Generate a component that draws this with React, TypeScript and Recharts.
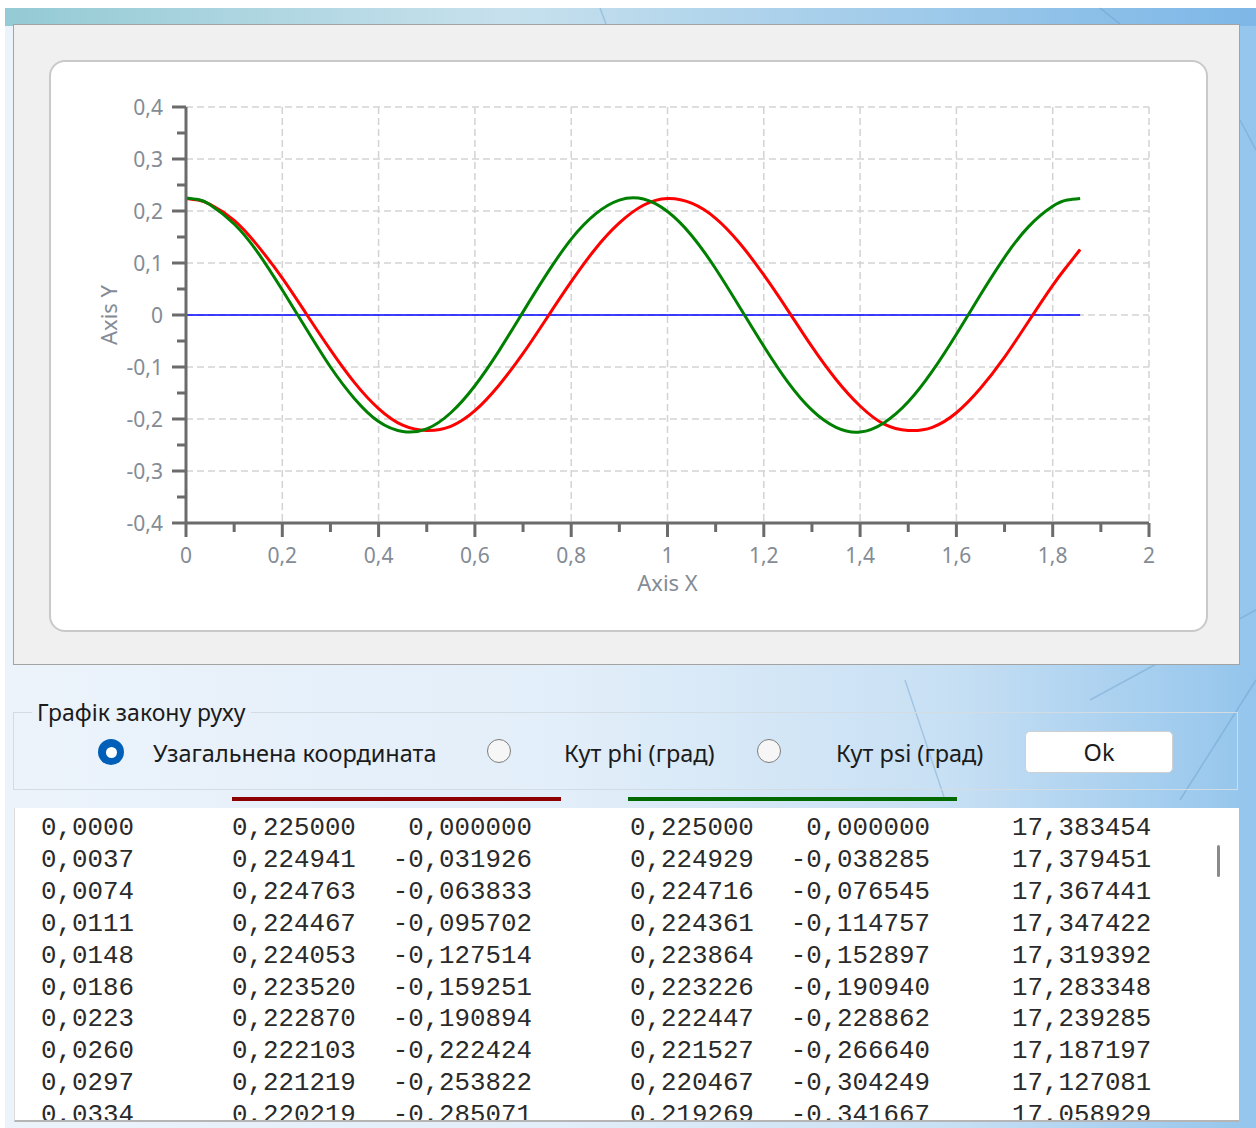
import { LineChart, Line, XAxis, YAxis, CartesianGrid, Label } from "recharts";

// samples (x in Axis X units)
const xs = [
  0, 0.025, 0.05, 0.1, 0.15, 0.2, 0.25, 0.3, 0.35, 0.4, 0.45, 0.5, 0.55, 0.6, 0.65, 0.7, 0.75, 0.8, 0.85, 0.9,
  0.95, 1, 1.05, 1.1, 1.15, 1.2, 1.25, 1.3, 1.35, 1.4, 1.45, 1.5, 1.55, 1.6, 1.65, 1.7, 1.75, 1.8, 1.83, 1.857,
];
const redVals = [
  0.224, 0.221, 0.213, 0.182, 0.132, 0.071, 0.002, -0.067, -0.13, -0.18, -0.212, -0.222, -0.214, -0.184, -0.135,
  -0.074, -0.005, 0.064, 0.127, 0.177, 0.211, 0.224, 0.215, 0.186, 0.138, 0.077, 0.009, -0.061, -0.124,
  -0.175, -0.21, -0.222, -0.216, -0.188, -0.141, -0.081, -0.012, 0.057, 0.094, 0.126,
];
const greenVals = [
  0.225, 0.222, 0.212, 0.175, 0.119, 0.048, -0.027, -0.1, -0.161, -0.205, -0.224, -0.219, -0.188, -0.136, -0.069,
  0.006, 0.08, 0.146, 0.194, 0.221, 0.223, 0.199, 0.153, 0.089, 0.015, -0.06, -0.129, -0.183, -0.216,
  -0.225, -0.207, -0.167, -0.108, -0.037, 0.039, 0.111, 0.17, 0.209, 0.221, 0.224,
];
const zeroX = [0, 1.857];
const zeroVals = [0, 0];

const xTicks = [0, 0.1, 0.2, 0.3, 0.4, 0.5, 0.6, 0.7, 0.8, 0.9, 1, 1.1, 1.2, 1.3, 1.4, 1.5, 1.6, 1.7, 1.8, 1.9, 2];
const yTicks = [
  -0.4, -0.35, -0.3, -0.25, -0.2, -0.15, -0.1, -0.05, 0, 0.05, 0.1, 0.15, 0.2, 0.25, 0.3, 0.35, 0.4,
];
const xGrid = [0.2, 0.4, 0.6, 0.8, 1, 1.2, 1.4, 1.6, 1.8, 2];
const yGrid = [-0.3, -0.2, -0.1, 0, 0.1, 0.2, 0.3, 0.4];

// text box rows
const tVals = ["0,0000", "0,0037", "0,0074", "0,0111", "0,0148", "0,0186", "0,0223", "0,0260", "0,0297", "0,0334"];
const q1 = ["0,225000", "0,224941", "0,224763", "0,224467", "0,224053", "0,223520", "0,222870", "0,222103", "0,221219", "0,220219"];
const dq1 = ["0,000000", "-0,031926", "-0,063833", "-0,095702", "-0,127514", "-0,159251", "-0,190894", "-0,222424", "-0,253822", "-0,285071"];
const q2 = ["0,225000", "0,224929", "0,224716", "0,224361", "0,223864", "0,223226", "0,222447", "0,221527", "0,220467", "0,219269"];
const dq2 = ["0,000000", "-0,038285", "-0,076545", "-0,114757", "-0,152897", "-0,190940", "-0,228862", "-0,266640", "-0,304249", "-0,341667"];
const angles = ["17,383454", "17,379451", "17,367441", "17,347422", "17,319392", "17,283348", "17,239285", "17,187197", "17,127081", "17,058929"];

const chartData = xs.map((x, i) => ({ x, red: redVals[i], green: greenVals[i] }));
const zeroData = zeroX.map((x, i) => ({ x, blue: zeroVals[i] }));

const AXIS = "#6b6b6b";
const LABEL = "#848b95";
const UI_FONT = "'Noto Sans', 'Open Sans', sans-serif";

const fmt = (v: number) => String(v).replace(".", ",");

function XTick(props: any) {
  const { x, y, payload } = props;
  const major = Math.round(payload.value * 10) % 2 === 0;
  return (
    <g>
      <line x1={x} y1={y} x2={x} y2={y + (major ? 14 : 9)} stroke={AXIS} strokeWidth={3} />
      {major && (
        <text x={x} y={y + 32} textAnchor="middle" dominantBaseline="central" fill={LABEL} fontSize={21} fontFamily={UI_FONT}>
          {fmt(payload.value)}
        </text>
      )}
    </g>
  );
}

function YTick(props: any) {
  const { x, y, payload } = props;
  const major = Math.round(payload.value * 100) % 10 === 0;
  return (
    <g>
      <line x1={x} y1={y} x2={x - (major ? 14 : 9)} y2={y} stroke={AXIS} strokeWidth={3} />
      {major && (
        <text x={x - 23} y={y} textAnchor="end" dominantBaseline="central" fill={LABEL} fontSize={21} fontFamily={UI_FONT}>
          {fmt(payload.value)}
        </text>
      )}
    </g>
  );
}

function Radio({ left, top, checked }: { left: number; top: number; checked?: boolean }) {
  return checked ? (
    <div style={{ position: "absolute", left: left - 13, top: top - 13, width: 26, height: 26, borderRadius: 13, background: "#005fb8", display: "flex", alignItems: "center", justifyContent: "center" }}>
      <div style={{ width: 11, height: 11, borderRadius: 6, background: "#fff" }} />
    </div>
  ) : (
    <div style={{ position: "absolute", left: left - 12, top: top - 12, width: 22, height: 22, borderRadius: 12, background: "#f6f6f6", border: "1.5px solid #7d7d7d" }} />
  );
}

function UiText({ left, top, children, size = 23.5 }: { left: number; top: number; children: any; size?: number }) {
  return (
    <div style={{ position: "absolute", left, top: top - 16, height: 32, lineHeight: "32px", fontSize: size, fontFamily: UI_FONT, color: "#1b1b1b", whiteSpace: "nowrap" }}>
      {children}
    </div>
  );
}

export default function App() {
  const cols = [
    { vals: tVals, left: 26, width: 160, align: "left" },
    { vals: q1, left: 217, width: 160, align: "left" },
    { vals: dq1, left: 357, width: 160, align: "right" },
    { vals: q2, left: 615, width: 160, align: "left" },
    { vals: dq2, left: 755, width: 160, align: "right" },
    { vals: angles, left: 997, width: 180, align: "left" },
  ];
  return (
    <div style={{ position: "absolute", left: 0, top: 0, width: 1256, height: 1128, overflow: "hidden", background: "#fff" }}>
      {/* window backdrop */}
      <div
        style={{
          position: "absolute",
          left: 5,
          top: 8,
          right: 0,
          bottom: 0,
          background:
            "linear-gradient(90deg, rgba(110,185,195,0.7) 0%, rgba(170,210,225,0.5) 40%, rgba(120,180,230,0.8) 100%) top / 100% 18px no-repeat, linear-gradient(90deg, #ecf3fb 0%, #e2eef9 45%, #c8e0f4 75%, #94c5ec 100%)",
        }}
      />
      <svg style={{ position: "absolute", left: 0, top: 0 }} width={1256} height={1128}>
        <g stroke="#5d93bf" strokeOpacity={0.35} strokeWidth={1.5} fill="none">
          <line x1={905} y1={680} x2={945} y2={800} />
          <line x1={1090} y1={700} x2={1256} y2={610} />
          <line x1={1180} y1={800} x2={1256} y2={680} />
          <line x1={1240} y1={120} x2={1256} y2={150} />
          <line x1={1100} y1={8} x2={1120} y2={24} />
          <line x1={600} y1={8} x2={606} y2={24} />
        </g>
      </svg>

      {/* gray panel with chart */}
      <div style={{ position: "absolute", left: 13, top: 24, width: 1225, height: 639, background: "#f0f0f0", border: "1px solid #a3a3a3" }} />
      <div style={{ position: "absolute", left: 49, top: 60, width: 1155, height: 568, background: "#fff", border: "2px solid #c9c9c9", borderRadius: 16 }} />
      <div style={{ position: "absolute", left: 49, top: 60 }}>
        <LineChart width={1159} height={572} data={chartData} margin={{ top: 47, right: 59, bottom: 49, left: 77 }}>
          <CartesianGrid stroke="#d3d3d3" strokeWidth={1.5} strokeDasharray="7 4" verticalValues={xGrid} horizontalValues={yGrid} />
          <XAxis
            dataKey="x"
            type="number"
            domain={[0, 2]}
            ticks={xTicks}
            interval={0}
            tickSize={0}
            tickMargin={0}
            tickLine={false}
            axisLine={{ stroke: AXIS, strokeWidth: 3 }}
            tick={(p: any) => <XTick {...p} />}
            height={60}
            allowDataOverflow
          >
            <Label
              content={(p: any) => (
                <text x={p.viewBox.x + p.viewBox.width / 2} y={p.viewBox.y + 59} textAnchor="middle" dominantBaseline="central" fill={LABEL} fontSize={22} fontFamily={UI_FONT}>
                  Axis X
                </text>
              )}
            />
          </XAxis>
          <YAxis
            type="number"
            domain={[-0.4, 0.4]}
            ticks={yTicks}
            interval={0}
            tickSize={0}
            tickMargin={0}
            tickLine={false}
            axisLine={{ stroke: AXIS, strokeWidth: 3 }}
            tick={(p: any) => <YTick {...p} />}
            width={60}
            allowDataOverflow
          >
            <Label
              content={(p: any) => {
                const cx = p.viewBox.x - 18;
                const cy = p.viewBox.y + p.viewBox.height / 2;
                return (
                  <text x={cx} y={cy} transform={`rotate(-90, ${cx}, ${cy})`} textAnchor="middle" dominantBaseline="central" fill={LABEL} fontSize={22} fontFamily={UI_FONT}>
                    Axis Y
                  </text>
                );
              }}
            />
          </YAxis>
          <Line data={zeroData} dataKey="blue" stroke="#0000ff" strokeWidth={1.5} dot={false} activeDot={false} isAnimationActive={false} />
          <Line dataKey="red" type="natural" stroke="#ff0000" strokeWidth={3} dot={false} activeDot={false} isAnimationActive={false} />
          <Line dataKey="green" type="natural" stroke="#008000" strokeWidth={3} dot={false} activeDot={false} isAnimationActive={false} />
        </LineChart>
      </div>

      {/* radio group */}
      <fieldset
        style={{ position: "absolute", left: 13, top: 698, width: 1225, height: 92, margin: 0, padding: 0, border: "1px solid #d3dbe3", boxSizing: "border-box" }}
      >
        <legend style={{ marginLeft: 18, padding: "0 5px", fontSize: 23, fontFamily: UI_FONT, color: "#1b1b1b", lineHeight: "28px" }}>
          Графік закону руху
        </legend>
      </fieldset>
      <Radio left={111} top={752} checked />
      <UiText left={153} top={753}>Узагальнена координата</UiText>
      <Radio left={499} top={751} />
      <UiText left={564} top={753}>Кут phi (град)</UiText>
      <Radio left={769} top={751} />
      <UiText left={836} top={753}>Кут psi (град)</UiText>
      <div
        style={{ position: "absolute", left: 1025, top: 731, width: 146, height: 40, background: "#fff", border: "1px solid #d0d0d0", borderRadius: 5, display: "flex", alignItems: "center", justifyContent: "center", fontSize: 23.5, fontFamily: UI_FONT, color: "#1b1b1b" }}
      >
        Ok
      </div>

      {/* series markers above the table */}
      <div style={{ position: "absolute", left: 232, top: 797, width: 329, height: 4, background: "#8e0000" }} />
      <div style={{ position: "absolute", left: 628, top: 797, width: 329, height: 4, background: "#006a00" }} />

      {/* text box with values */}
      <div
        style={{ position: "absolute", left: 14, top: 808, width: 1224, height: 312, background: "#fff", borderLeft: "1px solid #dcdcdc", borderBottom: "2px solid #b5b5b5", overflow: "hidden" }}
      >
        {cols.map((c, ci) =>
          c.vals.map((v, ri) => (
            <div
              key={ci + "-" + ri}
              style={{ position: "absolute", left: c.left, top: 5 + ri * 31.9, width: c.width, textAlign: c.align as any, fontFamily: "'Liberation Mono', 'DejaVu Sans Mono', monospace", fontSize: 25.8, lineHeight: "32px", color: "#2a2a2a", whiteSpace: "pre" }}
            >
              {v}
            </div>
          ))
        )}
        <div style={{ position: "absolute", left: 1202, top: 37, width: 3, height: 32, background: "#8a8a8a", borderRadius: 2 }} />
      </div>
    </div>
  );
}
